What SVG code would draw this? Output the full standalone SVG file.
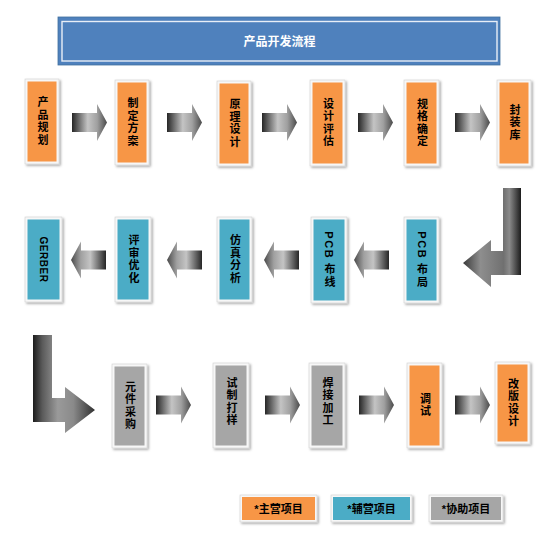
<svg xmlns="http://www.w3.org/2000/svg" width="554" height="540" viewBox="0 0 554 540">
<style>
.frame{fill:#f7f7f7;stroke:#d0d0d0;stroke-width:0.6;filter:url(#sh)}
.org{fill:#F79646}
.blu{fill:#4BACC6}
.gry{fill:#A6A6A6}
.vt{font-family:"Liberation Sans","Noto Sans CJK SC",sans-serif;font-weight:bold;font-size:11px;fill:#000;writing-mode:vertical-rl;text-anchor:middle;letter-spacing:1.5px}
.lg{font-family:"Liberation Sans","Noto Sans CJK SC",sans-serif;font-weight:bold;font-size:11px;fill:#000;text-anchor:middle}
.ttl{font-family:"Liberation Sans","Noto Sans CJK SC",sans-serif;font-weight:bold;font-size:12px;fill:#fff;text-anchor:middle}
</style>
<defs>
<filter id="sh" x="-20%" y="-20%" width="150%" height="150%">
<feDropShadow dx="1.5" dy="1.5" stdDeviation="0.8" flood-color="#000" flood-opacity="0.35"/>
</filter>
<linearGradient id="ga" x1="0" y1="0" x2="1" y2="0">
<stop offset="0" stop-color="#262626"/>
<stop offset="0.45" stop-color="#c4c4c4"/>
<stop offset="0.72" stop-color="#a0a0a0"/>
<stop offset="1" stop-color="#4a4a4a"/>
</linearGradient>
<linearGradient id="gb1" gradientUnits="userSpaceOnUse" x1="463" y1="0" x2="521" y2="0">
<stop offset="0" stop-color="#3a3a3a"/>
<stop offset="0.3" stop-color="#8e8e8e"/>
<stop offset="0.7" stop-color="#707070"/>
<stop offset="0.8" stop-color="#8a8a8a"/>
<stop offset="1" stop-color="#1c1c1c"/>
</linearGradient>
<linearGradient id="gb2" gradientUnits="userSpaceOnUse" x1="33" y1="0" x2="95" y2="0">
<stop offset="0" stop-color="#1c1c1c"/>
<stop offset="0.15" stop-color="#5a5a5a"/>
<stop offset="0.4" stop-color="#9a9a9a"/>
<stop offset="0.65" stop-color="#8a8a8a"/>
<stop offset="1" stop-color="#303030"/>
</linearGradient>
<path id="ar" d="M0,-9.5 L25,-9.5 L25,-18.5 L35,0 L25,18.5 L25,9.5 L0,9.5 Z" fill="url(#ga)"/>
</defs>
<rect width="554" height="540" fill="#fff"/>

<g id="title">
<rect x="58" y="17" width="442" height="48" fill="#4F81BD" stroke="#41709f" stroke-width="0.8"/>
<rect x="62" y="21.5" width="435" height="39.5" fill="none" stroke="#e8eef7" stroke-width="1.4"/>
<text class="ttl" x="279.5" y="45.5">产品开发流程</text>
</g>

<g id="connectors">
<use href="#ar" transform="translate(72,122.5)"/>
<use href="#ar" transform="translate(167,122.5)"/>
<use href="#ar" transform="translate(262,122.5)"/>
<use href="#ar" transform="translate(358,122.5)"/>
<use href="#ar" transform="translate(455,122.5)"/>
<path d="M503,188 L521,188 L521,275 L491,275 L491,287 L463,263 L491,240 L491,251 L503,251 Z" fill="url(#gb1)"/>
<use href="#ar" transform="translate(389,260) scale(-1,1)"/>
<use href="#ar" transform="translate(299,260) scale(-1,1)"/>
<use href="#ar" transform="translate(202,260) scale(-1,1)"/>
<use href="#ar" transform="translate(106,260) scale(-1,1)"/>
<path d="M33,335 L52,335 L52,398 L65,398 L65,387 L95,410 L65,433 L65,422 L33,422 Z" fill="url(#gb2)"/>
<use href="#ar" transform="translate(156,405)"/>
<use href="#ar" transform="translate(265,405)"/>
<use href="#ar" transform="translate(359,405)"/>
<use href="#ar" transform="translate(455,405)"/>
</g>

<g id="n1"><rect class="frame" x="25" y="79" width="34" height="85"/><rect class="org" x="27.5" y="81.5" width="29" height="80"/><text class="vt" x="42" y="121.5">产品规划</text></g>
<g id="n2"><rect class="frame" x="115" y="80" width="34" height="85"/><rect class="org" x="117.5" y="82.5" width="29" height="80"/><text class="vt" x="132" y="122.5">制定方案</text></g>
<g id="n3"><rect class="frame" x="217" y="81" width="34" height="85"/><rect class="org" x="219.5" y="83.5" width="29" height="80"/><text class="vt" x="234" y="123.5">原理设计</text></g>
<g id="n4"><rect class="frame" x="310" y="80" width="35" height="86"/><rect class="org" x="312.5" y="82.5" width="30" height="81"/><text class="vt" x="327.5" y="123">设计评估</text></g>
<g id="n5"><rect class="frame" x="404" y="80" width="35" height="86"/><rect class="org" x="406.5" y="82.5" width="30" height="81"/><text class="vt" x="421.5" y="123">规格确定</text></g>
<g id="n6"><rect class="frame" x="497" y="80" width="34" height="86"/><rect class="org" x="499.5" y="82.5" width="29" height="81"/><text class="vt" x="514" y="123">封装库</text></g>

<g id="n7"><rect class="frame" x="404" y="217" width="35" height="86"/><rect class="blu" x="406.5" y="219.5" width="30" height="81"/><text class="vt" x="421.5" y="260">PCB 布局</text></g>
<g id="n8"><rect class="frame" x="311" y="217" width="36" height="86"/><rect class="blu" x="313.5" y="219.5" width="31" height="81"/><text class="vt" x="329" y="260">PCB 布线</text></g>
<g id="n9"><rect class="frame" x="217" y="217" width="35" height="85"/><rect class="blu" x="219.5" y="219.5" width="30" height="80"/><text class="vt" x="234.5" y="259.5">仿真分析</text></g>
<g id="n10"><rect class="frame" x="115" y="217" width="36" height="85"/><rect class="blu" x="117.5" y="219.5" width="31" height="80"/><text class="vt" x="133" y="259.5">评审优化</text></g>
<g id="n11"><rect class="frame" x="25" y="217" width="37" height="85"/><rect class="blu" x="27.5" y="219.5" width="32" height="80"/><text class="vt" x="43.5" y="259.5" style="font-size:10px;letter-spacing:0.5px">GERBER</text></g>

<g id="n12"><rect class="frame" x="112" y="364" width="35" height="84"/><rect class="gry" x="114.5" y="366.5" width="30" height="79"/><text class="vt" x="129.5" y="406">元件采购</text></g>
<g id="n13"><rect class="frame" x="213" y="363" width="36" height="85"/><rect class="gry" x="215.5" y="365.5" width="31" height="80"/><text class="vt" x="231" y="402">试制打样</text></g>
<g id="n14"><rect class="frame" x="309" y="363" width="36" height="85"/><rect class="gry" x="311.5" y="365.5" width="31" height="80"/><text class="vt" x="327" y="402">焊接加工</text></g>
<g id="n15"><rect class="frame" x="407" y="363" width="35" height="85"/><rect class="org" x="409.5" y="365.5" width="30" height="80"/><text class="vt" x="424.5" y="405.5">调试</text></g>
<g id="n16"><rect class="frame" x="495" y="362" width="35" height="82"/><rect class="org" x="497.5" y="364.5" width="30" height="77"/><text class="vt" x="512.5" y="403">改版设计</text></g>

<g id="legend">
<g id="lg1"><rect class="frame" x="240" y="495" width="77" height="27"/><rect class="org" x="242" y="497" width="73" height="23"/><text class="lg" x="278.5" y="512.5">*主营项目</text></g>
<g id="lg2"><rect class="frame" x="331" y="495" width="81" height="27"/><rect class="blu" x="333" y="497" width="77" height="23"/><text class="lg" x="371.5" y="512.5">*辅营项目</text></g>
<g id="lg3"><rect class="frame" x="429" y="495" width="74" height="27"/><rect class="gry" x="431" y="497" width="70" height="23"/><text class="lg" x="466" y="512.5">*协助项目</text></g>
</g>
</svg>
